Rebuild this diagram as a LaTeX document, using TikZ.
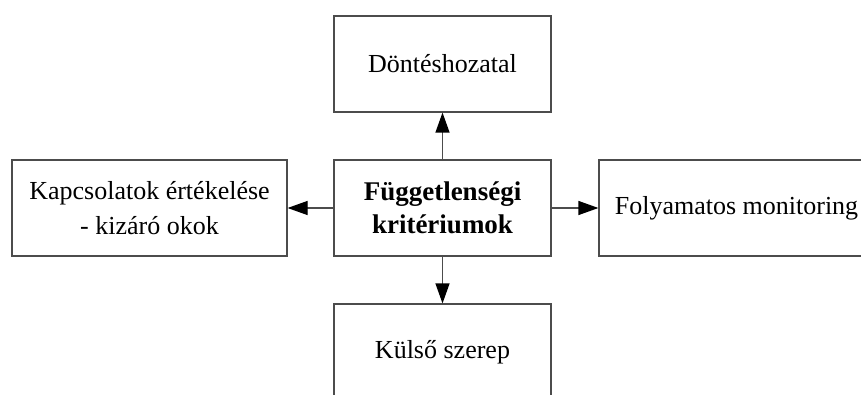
\documentclass[tikz,border=0pt]{standalone}
\usepackage{fontspec}
\setmainfont{Liberation Serif}
\usetikzlibrary{arrows.meta}

\begin{document}
\begin{tikzpicture}[x=1pt,y=1pt,
        box/.style={draw=black!70, line width=1.2pt, minimum height=96pt,
          align=center, inner sep=0pt, font=\fontsize{26}{35}\selectfont},
        narrow/.style={box, minimum width=217pt},
        wide/.style={box, minimum width=275pt},
        arr/.style={draw=black!70, line width=1.2pt,
          -{Triangle[length=20pt,width=14pt,fill=black,color=black]}}]
        \clip (0,0) rectangle (861,394);
        \node[narrow, font=\fontsize{27}{33}\selectfont\bfseries] (krit) at (442.5,186) {Függetlenségi\\kritériumok};
        \node[narrow] (dont) at (442.5,330) {Döntéshozatal};
        \node[narrow] (kulso) at (442.5,42) {Külső szerep};
        \node[wide] (kapcs) at (149.5,186) {Kapcsolatok értékelése\\- kizáró okok};
        \node[wide] (foly) at (736.5,186) {Folyamatos monitoring};
        \draw[arr] (krit) -- (dont);
        \draw[arr] (krit) -- (kulso);
        \draw[arr] (krit) -- (kapcs);
        \draw[arr] (krit) -- (foly);
      \end{tikzpicture}
\end{document}
